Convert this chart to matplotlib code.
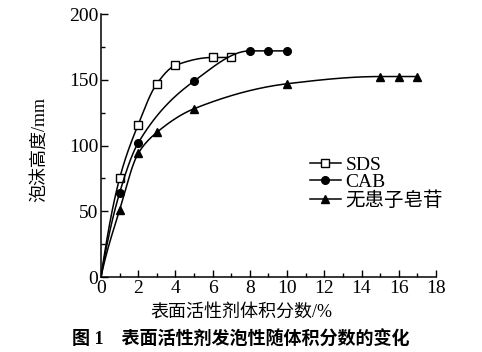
import numpy as np
import matplotlib
matplotlib.use("Agg")
import matplotlib.pyplot as plt
from matplotlib.ticker import MultipleLocator

SERIF = ['Liberation Serif', 'DejaVu Serif', 'Noto Sans CJK SC']
plt.rcParams['font.family'] = SERIF

# Data (volume fraction %, foam height mm); first point (0,0) is the curve origin, no marker
sds_x = [0, 1, 2, 3, 4, 6, 7]
sds_y = [0, 75, 116, 147, 161, 167, 167]
cab_x = [0, 1, 2, 5, 8, 9, 10]
cab_y = [0, 64, 102, 149, 172, 172, 172]
sap_x = [0, 1, 2, 3, 5, 10, 15, 16, 17]
sap_y = [0, 51, 94, 110, 128, 147, 152.5, 152.5, 152.5]
labels = ['SDS', 'CAB', '无患子皂苷']
xlabel = '表面活性剂体积分数/%'
ylabel = '泡沫高度/mm'
caption = '图 1　表面活性剂发泡性随体积分数的变化'


def pchip(x, y, xs):
    x = np.asarray(x, float); y = np.asarray(y, float)
    h = np.diff(x); d = np.diff(y) / h
    n = len(x); m = np.zeros(n)
    for k in range(1, n - 1):
        if d[k - 1] * d[k] > 0:
            w1 = 2 * h[k] + h[k - 1]; w2 = h[k] + 2 * h[k - 1]
            m[k] = (w1 + w2) / (w1 / d[k - 1] + w2 / d[k])
    m[0] = d[0] * 1.3
    m[-1] = 0 if d[-1] == 0 else d[-1]
    out = np.empty_like(xs)
    for i, xv in enumerate(xs):
        k = min(np.searchsorted(x, xv, side='right') - 1, n - 2)
        k = max(k, 0)
        t = (xv - x[k]) / h[k]
        h00 = 2*t**3 - 3*t**2 + 1; h10 = t**3 - 2*t**2 + t
        h01 = -2*t**3 + 3*t**2; h11 = t**3 - t**2
        out[i] = h00*y[k] + h10*h[k]*m[k] + h01*y[k+1] + h11*h[k]*m[k+1]
    return out


fig = plt.figure(figsize=(4.82, 3.52), dpi=100)
ax = fig.add_axes([0.2095, 0.213, 0.695, 0.747])

series = [(sds_x, sds_y, dict(marker='s', mfc='white', ms=5.5)),
          (cab_x, cab_y, dict(marker='o', mfc='black', ms=5.5)),
          (sap_x, sap_y, dict(marker='^', mfc='black', ms=6))]
for (x, y, mk), lab in zip(series, labels):
    xs = np.linspace(x[0], x[-1], 300)
    ax.plot(xs, pchip(x, y, xs), color='black', lw=1.1)
    ax.plot(x[1:], y[1:], linestyle='none', color='black', mec='black', mew=1.0, **mk)
    ax.plot([], [], color='black', lw=1.1, mec='black', label=lab, **mk)

ax.set_xlim(0, 18)
ax.set_ylim(0, 200)
ax.xaxis.set_major_locator(MultipleLocator(2))
ax.xaxis.set_minor_locator(MultipleLocator(1))
ax.yaxis.set_major_locator(MultipleLocator(50))
ax.yaxis.set_minor_locator(MultipleLocator(25))
ax.tick_params(which='both', direction='in', width=1.0, labelsize=14, pad=2)
ax.tick_params(which='major', length=5)
ax.tick_params(which='minor', length=3)
for s in ['top', 'right']:
    ax.spines[s].set_visible(False)
for s in ['left', 'bottom']:
    ax.spines[s].set_linewidth(1.1)

fig.text(0.5, 1 - 313/352, xlabel, ha='center', va='center', fontsize=13, family=SERIF)
fig.text(40/482, 1 - 150/352, ylabel, ha='center', va='center', rotation=90, fontsize=13,
         family=SERIF)

leg = ax.legend(loc='upper left', bbox_to_anchor=(0.6, 0.49), frameon=False,
                handlelength=1.6, handletextpad=0.25, labelspacing=0.0,
                borderaxespad=0, prop={'family': SERIF, 'size': 14})

fig.text(0.5, 1 - 340/352, caption, ha='center', va='center', fontsize=13, fontweight='bold',
         family=SERIF)

fig.savefig('out.png', dpi=100)
